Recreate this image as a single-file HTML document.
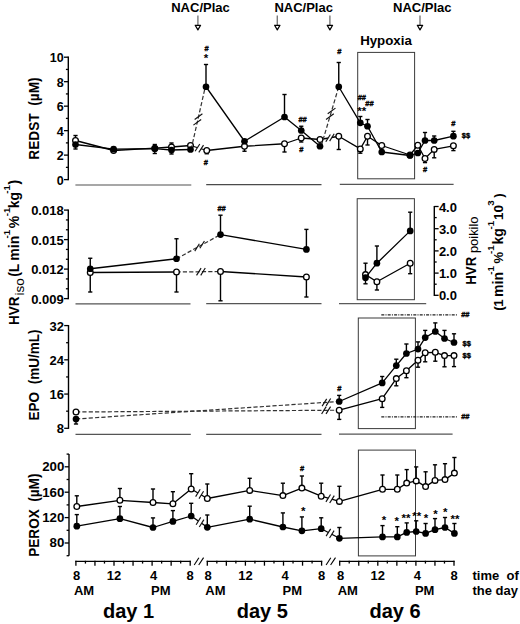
<!DOCTYPE html>
<html><head><meta charset="utf-8"><style>
html,body{margin:0;padding:0;background:#fff;}
svg{display:block;}
text{font-family:"Liberation Sans", sans-serif;fill:#000;}
</style></head><body>
<svg width="520" height="624" viewBox="0 0 520 624">
<rect width="520" height="624" fill="#fff"/>
<text x="200.50" y="12.30" font-size="13" text-anchor="middle" font-weight="bold">NAC/Plac</text>
<line x1="197.90" y1="15.60" x2="197.90" y2="25.20" stroke="#7a7a7a" stroke-width="1.4"/>
<path d="M195.20,25.3 L200.60,25.3 L197.90,29.9 Z" fill="#fff" stroke="#000" stroke-width="1.2" stroke-linejoin="round"/>
<text x="303.70" y="12.30" font-size="13" text-anchor="middle" font-weight="bold">NAC/Plac</text>
<line x1="277.30" y1="15.60" x2="277.30" y2="25.20" stroke="#7a7a7a" stroke-width="1.4"/>
<path d="M274.60,25.3 L280.00,25.3 L277.30,29.9 Z" fill="#fff" stroke="#000" stroke-width="1.2" stroke-linejoin="round"/>
<line x1="329.90" y1="15.60" x2="329.90" y2="25.20" stroke="#7a7a7a" stroke-width="1.4"/>
<path d="M327.20,25.3 L332.60,25.3 L329.90,29.9 Z" fill="#fff" stroke="#000" stroke-width="1.2" stroke-linejoin="round"/>
<text x="422.30" y="12.30" font-size="13" text-anchor="middle" font-weight="bold">NAC/Plac</text>
<line x1="420.00" y1="15.60" x2="420.00" y2="25.20" stroke="#7a7a7a" stroke-width="1.4"/>
<path d="M417.30,25.3 L422.70,25.3 L420.00,29.9 Z" fill="#fff" stroke="#000" stroke-width="1.2" stroke-linejoin="round"/>
<line x1="68.30" y1="56.60" x2="68.30" y2="180.20" stroke="#000" stroke-width="1.4"/>
<line x1="68.30" y1="57.20" x2="64.00" y2="57.20" stroke="#000" stroke-width="1.3"/>
<text x="63.70" y="62.17" font-size="12.5" text-anchor="end" font-weight="bold">10</text>
<line x1="68.30" y1="81.68" x2="64.00" y2="81.68" stroke="#000" stroke-width="1.3"/>
<text x="63.70" y="86.65" font-size="12.5" text-anchor="end" font-weight="bold">8</text>
<line x1="68.30" y1="106.16" x2="64.00" y2="106.16" stroke="#000" stroke-width="1.3"/>
<text x="63.70" y="111.13" font-size="12.5" text-anchor="end" font-weight="bold">6</text>
<line x1="68.30" y1="130.64" x2="64.00" y2="130.64" stroke="#000" stroke-width="1.3"/>
<text x="63.70" y="135.61" font-size="12.5" text-anchor="end" font-weight="bold">4</text>
<line x1="68.30" y1="155.12" x2="64.00" y2="155.12" stroke="#000" stroke-width="1.3"/>
<text x="63.70" y="160.09" font-size="12.5" text-anchor="end" font-weight="bold">2</text>
<line x1="68.30" y1="179.60" x2="64.00" y2="179.60" stroke="#000" stroke-width="1.3"/>
<text x="63.70" y="184.57" font-size="12.5" text-anchor="end" font-weight="bold">0</text>
<line x1="68.30" y1="69.44" x2="65.90" y2="69.44" stroke="#000" stroke-width="1.3"/>
<line x1="68.30" y1="93.92" x2="65.90" y2="93.92" stroke="#000" stroke-width="1.3"/>
<line x1="68.30" y1="118.40" x2="65.90" y2="118.40" stroke="#000" stroke-width="1.3"/>
<line x1="68.30" y1="142.88" x2="65.90" y2="142.88" stroke="#000" stroke-width="1.3"/>
<line x1="68.30" y1="167.36" x2="65.90" y2="167.36" stroke="#000" stroke-width="1.3"/>
<text transform="translate(38.75 118.55) rotate(-90)" x="0" y="0" font-size="14" text-anchor="middle" font-weight="bold" textLength="82.2" lengthAdjust="spacingAndGlyphs">REDST&#160;&#160;(µM)</text>
<line x1="68.30" y1="209.50" x2="68.30" y2="299.20" stroke="#000" stroke-width="1.4"/>
<line x1="68.30" y1="210.10" x2="64.00" y2="210.10" stroke="#000" stroke-width="1.3"/>
<text x="63.70" y="215.25" font-size="13" text-anchor="end" font-weight="bold">0.018</text>
<line x1="68.30" y1="239.60" x2="64.00" y2="239.60" stroke="#000" stroke-width="1.3"/>
<text x="63.70" y="244.75" font-size="13" text-anchor="end" font-weight="bold">0.015</text>
<line x1="68.30" y1="269.10" x2="64.00" y2="269.10" stroke="#000" stroke-width="1.3"/>
<text x="63.70" y="274.25" font-size="13" text-anchor="end" font-weight="bold">0.012</text>
<line x1="68.30" y1="298.60" x2="64.00" y2="298.60" stroke="#000" stroke-width="1.3"/>
<text x="63.70" y="303.75" font-size="13" text-anchor="end" font-weight="bold">0.009</text>
<line x1="68.30" y1="219.93" x2="65.90" y2="219.93" stroke="#000" stroke-width="1.3"/>
<line x1="68.30" y1="229.77" x2="65.90" y2="229.77" stroke="#000" stroke-width="1.3"/>
<line x1="68.30" y1="249.43" x2="65.90" y2="249.43" stroke="#000" stroke-width="1.3"/>
<line x1="68.30" y1="259.27" x2="65.90" y2="259.27" stroke="#000" stroke-width="1.3"/>
<line x1="68.30" y1="278.93" x2="65.90" y2="278.93" stroke="#000" stroke-width="1.3"/>
<line x1="68.30" y1="288.77" x2="65.90" y2="288.77" stroke="#000" stroke-width="1.3"/>
<line x1="434.30" y1="205.90" x2="434.30" y2="295.90" stroke="#000" stroke-width="1.4"/>
<line x1="434.30" y1="206.50" x2="438.60" y2="206.50" stroke="#000" stroke-width="1.3"/>
<text x="438.90" y="211.65" font-size="13" text-anchor="start" font-weight="bold">4.0</text>
<line x1="434.30" y1="228.70" x2="438.60" y2="228.70" stroke="#000" stroke-width="1.3"/>
<text x="438.90" y="233.85" font-size="13" text-anchor="start" font-weight="bold">3.0</text>
<line x1="434.30" y1="250.90" x2="438.60" y2="250.90" stroke="#000" stroke-width="1.3"/>
<text x="438.90" y="256.05" font-size="13" text-anchor="start" font-weight="bold">2.0</text>
<line x1="434.30" y1="273.10" x2="438.60" y2="273.10" stroke="#000" stroke-width="1.3"/>
<text x="438.90" y="278.25" font-size="13" text-anchor="start" font-weight="bold">1.0</text>
<line x1="434.30" y1="295.30" x2="438.60" y2="295.30" stroke="#000" stroke-width="1.3"/>
<text x="438.90" y="300.45" font-size="13" text-anchor="start" font-weight="bold">0.0</text>
<line x1="434.30" y1="217.60" x2="436.70" y2="217.60" stroke="#000" stroke-width="1.3"/>
<line x1="434.30" y1="239.80" x2="436.70" y2="239.80" stroke="#000" stroke-width="1.3"/>
<line x1="434.30" y1="262.00" x2="436.70" y2="262.00" stroke="#000" stroke-width="1.3"/>
<line x1="434.30" y1="284.20" x2="436.70" y2="284.20" stroke="#000" stroke-width="1.3"/>
<line x1="68.50" y1="324.98" x2="68.50" y2="428.90" stroke="#000" stroke-width="1.4"/>
<line x1="68.50" y1="325.58" x2="64.20" y2="325.58" stroke="#000" stroke-width="1.3"/>
<text x="63.90" y="330.73" font-size="13" text-anchor="end" font-weight="bold">32</text>
<line x1="68.50" y1="359.82" x2="64.20" y2="359.82" stroke="#000" stroke-width="1.3"/>
<text x="63.90" y="364.97" font-size="13" text-anchor="end" font-weight="bold">24</text>
<line x1="68.50" y1="394.06" x2="64.20" y2="394.06" stroke="#000" stroke-width="1.3"/>
<text x="63.90" y="399.21" font-size="13" text-anchor="end" font-weight="bold">16</text>
<line x1="68.50" y1="428.30" x2="64.20" y2="428.30" stroke="#000" stroke-width="1.3"/>
<text x="63.90" y="433.45" font-size="13" text-anchor="end" font-weight="bold">8</text>
<line x1="68.50" y1="342.70" x2="66.10" y2="342.70" stroke="#000" stroke-width="1.3"/>
<line x1="68.50" y1="376.94" x2="66.10" y2="376.94" stroke="#000" stroke-width="1.3"/>
<line x1="68.50" y1="411.18" x2="66.10" y2="411.18" stroke="#000" stroke-width="1.3"/>
<text transform="translate(39.20 374.95) rotate(-90)" x="0" y="0" font-size="14" text-anchor="middle" font-weight="bold" textLength="91.0" lengthAdjust="spacingAndGlyphs">EPO&#160;&#160;(mU/mL)</text>
<line x1="69.00" y1="454.10" x2="69.00" y2="555.70" stroke="#000" stroke-width="1.4"/>
<line x1="69.00" y1="466.80" x2="64.70" y2="466.80" stroke="#000" stroke-width="1.3"/>
<text x="64.40" y="471.16" font-size="13.3" text-anchor="end" font-weight="bold">200</text>
<line x1="69.00" y1="492.20" x2="64.70" y2="492.20" stroke="#000" stroke-width="1.3"/>
<text x="64.40" y="496.56" font-size="13.3" text-anchor="end" font-weight="bold">160</text>
<line x1="69.00" y1="517.60" x2="64.70" y2="517.60" stroke="#000" stroke-width="1.3"/>
<text x="64.40" y="521.96" font-size="13.3" text-anchor="end" font-weight="bold">120</text>
<line x1="69.00" y1="543.00" x2="64.70" y2="543.00" stroke="#000" stroke-width="1.3"/>
<text x="64.40" y="547.36" font-size="13.3" text-anchor="end" font-weight="bold">80</text>
<line x1="69.00" y1="454.10" x2="66.60" y2="454.10" stroke="#000" stroke-width="1.3"/>
<line x1="69.00" y1="479.50" x2="66.60" y2="479.50" stroke="#000" stroke-width="1.3"/>
<line x1="69.00" y1="504.90" x2="66.60" y2="504.90" stroke="#000" stroke-width="1.3"/>
<line x1="69.00" y1="530.30" x2="66.60" y2="530.30" stroke="#000" stroke-width="1.3"/>
<line x1="69.00" y1="555.70" x2="66.60" y2="555.70" stroke="#000" stroke-width="1.3"/>
<text transform="translate(38.80 515.15) rotate(-90)" x="0" y="0" font-size="14" text-anchor="middle" font-weight="bold" textLength="83.2" lengthAdjust="spacingAndGlyphs">PEROX&#160;&#160;(µM)</text>
<text transform="translate(19.20 310.85) rotate(-90)" x="0" y="0" font-size="14" text-anchor="middle" font-weight="bold" textLength="28.4" lengthAdjust="spacingAndGlyphs">HVR</text>
<text transform="translate(23.80 286.90) rotate(-90)" x="0" y="0" font-size="13.5" text-anchor="middle" font-weight="normal">iso</text>
<text transform="translate(19.20 274.50) rotate(-90)" x="0" y="0" font-size="14" text-anchor="middle" font-weight="bold">(</text>
<text transform="translate(19.20 267.95) rotate(-90)" x="0" y="0" font-size="14" text-anchor="middle" font-weight="bold">L</text>
<text transform="translate(19.20 248.20) rotate(-90)" x="0" y="0" font-size="14" text-anchor="middle" font-weight="bold">min</text>
<text transform="translate(10.00 234.05) rotate(-90)" x="0" y="0" font-size="9.8" text-anchor="middle" font-weight="bold">-1</text>
<text transform="translate(19.20 222.05) rotate(-90)" x="0" y="0" font-size="14" text-anchor="middle" font-weight="bold">%</text>
<text transform="translate(10.00 212.00) rotate(-90)" x="0" y="0" font-size="9.8" text-anchor="middle" font-weight="bold">-1</text>
<text transform="translate(19.20 200.00) rotate(-90)" x="0" y="0" font-size="14" text-anchor="middle" font-weight="bold">kg</text>
<text transform="translate(10.00 189.30) rotate(-90)" x="0" y="0" font-size="9.8" text-anchor="middle" font-weight="bold">-1</text>
<text transform="translate(19.20 182.10) rotate(-90)" x="0" y="0" font-size="14" text-anchor="middle" font-weight="bold">)</text>
<text transform="translate(476.20 270.75) rotate(-90)" x="0" y="0" font-size="14" text-anchor="middle" font-weight="bold" textLength="28.0" lengthAdjust="spacingAndGlyphs">HVR</text>
<text transform="translate(477.70 234.80) rotate(-90)" x="0" y="0" font-size="12" text-anchor="middle" font-weight="normal" textLength="36.6" lengthAdjust="spacingAndGlyphs">poikilo</text>
<text transform="translate(503.40 308.45) rotate(-90)" x="0" y="0" font-size="13.5" text-anchor="middle" font-weight="bold">(</text>
<text transform="translate(503.40 303.10) rotate(-90)" x="0" y="0" font-size="13.5" text-anchor="middle" font-weight="bold">1</text>
<text transform="translate(503.40 284.45) rotate(-90)" x="0" y="0" font-size="14" text-anchor="middle" font-weight="bold">min</text>
<text transform="translate(494.20 270.50) rotate(-90)" x="0" y="0" font-size="9.8" text-anchor="middle" font-weight="bold">-1</text>
<text transform="translate(503.40 257.80) rotate(-90)" x="0" y="0" font-size="13" text-anchor="middle" font-weight="bold">%</text>
<text transform="translate(494.20 249.55) rotate(-90)" x="0" y="0" font-size="9.8" text-anchor="middle" font-weight="bold">-1</text>
<text transform="translate(503.40 236.45) rotate(-90)" x="0" y="0" font-size="14" text-anchor="middle" font-weight="bold">kg</text>
<text transform="translate(494.20 225.25) rotate(-90)" x="0" y="0" font-size="9.8" text-anchor="middle" font-weight="bold">-1</text>
<text transform="translate(503.40 212.55) rotate(-90)" x="0" y="0" font-size="13.5" text-anchor="middle" font-weight="bold">10</text>
<text transform="translate(494.20 203.10) rotate(-90)" x="0" y="0" font-size="9.8" text-anchor="middle" font-weight="bold">3</text>
<text transform="translate(503.40 195.45) rotate(-90)" x="0" y="0" font-size="13.5" text-anchor="middle" font-weight="bold">)</text>
<line x1="75.40" y1="185.10" x2="191.30" y2="185.10" stroke="#8a8a8a" stroke-width="1.5"/>
<line x1="206.20" y1="184.50" x2="321.50" y2="184.50" stroke="#4a4a4a" stroke-width="1.25"/>
<line x1="339.80" y1="184.30" x2="453.60" y2="184.30" stroke="#555" stroke-width="1.3"/>
<line x1="75.50" y1="303.80" x2="190.50" y2="303.80" stroke="#555" stroke-width="1.3"/>
<line x1="206.20" y1="303.60" x2="321.50" y2="303.60" stroke="#555" stroke-width="1.3"/>
<line x1="339.00" y1="303.60" x2="426.20" y2="303.60" stroke="#5a5a5a" stroke-width="1.3"/>
<line x1="75.50" y1="434.30" x2="190.80" y2="434.30" stroke="#555" stroke-width="1.3"/>
<line x1="206.20" y1="434.30" x2="321.50" y2="434.30" stroke="#555" stroke-width="1.3"/>
<line x1="339.00" y1="434.20" x2="452.60" y2="434.20" stroke="#555" stroke-width="1.3"/>
<rect x="357.70" y="52.40" width="56.90" height="126.40" fill="none" stroke="#3a3a3a" stroke-width="1.0"/>
<rect x="357.20" y="198.70" width="57.20" height="101.00" fill="none" stroke="#3a3a3a" stroke-width="1.0"/>
<rect x="358.30" y="318.00" width="57.10" height="110.60" fill="none" stroke="#3a3a3a" stroke-width="1.0"/>
<rect x="358.40" y="450.10" width="57.10" height="105.80" fill="none" stroke="#3a3a3a" stroke-width="1.0"/>
<text x="386.00" y="44.70" font-size="13.3" text-anchor="middle" font-weight="bold">Hypoxia</text>
<line x1="75.30" y1="561.30" x2="190.80" y2="561.30" stroke="#000" stroke-width="1.15"/>
<line x1="75.90" y1="560.80" x2="75.90" y2="565.70" stroke="#000" stroke-width="1.3"/>
<line x1="85.43" y1="560.80" x2="85.43" y2="563.60" stroke="#000" stroke-width="1.3"/>
<line x1="94.95" y1="560.80" x2="94.95" y2="565.70" stroke="#000" stroke-width="1.3"/>
<line x1="104.48" y1="560.80" x2="104.48" y2="563.60" stroke="#000" stroke-width="1.3"/>
<line x1="114.00" y1="560.80" x2="114.00" y2="565.70" stroke="#000" stroke-width="1.3"/>
<line x1="123.53" y1="560.80" x2="123.53" y2="563.60" stroke="#000" stroke-width="1.3"/>
<line x1="133.05" y1="560.80" x2="133.05" y2="565.70" stroke="#000" stroke-width="1.3"/>
<line x1="142.57" y1="560.80" x2="142.57" y2="563.60" stroke="#000" stroke-width="1.3"/>
<line x1="152.10" y1="560.80" x2="152.10" y2="565.70" stroke="#000" stroke-width="1.3"/>
<line x1="161.62" y1="560.80" x2="161.62" y2="563.60" stroke="#000" stroke-width="1.3"/>
<line x1="171.15" y1="560.80" x2="171.15" y2="565.70" stroke="#000" stroke-width="1.3"/>
<line x1="180.68" y1="560.80" x2="180.68" y2="563.60" stroke="#000" stroke-width="1.3"/>
<line x1="190.20" y1="560.80" x2="190.20" y2="565.70" stroke="#000" stroke-width="1.3"/>
<line x1="206.70" y1="561.30" x2="322.20" y2="561.30" stroke="#000" stroke-width="1.15"/>
<line x1="207.30" y1="560.80" x2="207.30" y2="565.70" stroke="#000" stroke-width="1.3"/>
<line x1="216.83" y1="560.80" x2="216.83" y2="563.60" stroke="#000" stroke-width="1.3"/>
<line x1="226.35" y1="560.80" x2="226.35" y2="565.70" stroke="#000" stroke-width="1.3"/>
<line x1="235.88" y1="560.80" x2="235.88" y2="563.60" stroke="#000" stroke-width="1.3"/>
<line x1="245.40" y1="560.80" x2="245.40" y2="565.70" stroke="#000" stroke-width="1.3"/>
<line x1="254.93" y1="560.80" x2="254.93" y2="563.60" stroke="#000" stroke-width="1.3"/>
<line x1="264.45" y1="560.80" x2="264.45" y2="565.70" stroke="#000" stroke-width="1.3"/>
<line x1="273.98" y1="560.80" x2="273.98" y2="563.60" stroke="#000" stroke-width="1.3"/>
<line x1="283.50" y1="560.80" x2="283.50" y2="565.70" stroke="#000" stroke-width="1.3"/>
<line x1="293.03" y1="560.80" x2="293.03" y2="563.60" stroke="#000" stroke-width="1.3"/>
<line x1="302.55" y1="560.80" x2="302.55" y2="565.70" stroke="#000" stroke-width="1.3"/>
<line x1="312.08" y1="560.80" x2="312.08" y2="563.60" stroke="#000" stroke-width="1.3"/>
<line x1="321.60" y1="560.80" x2="321.60" y2="565.70" stroke="#000" stroke-width="1.3"/>
<line x1="339.10" y1="561.30" x2="454.60" y2="561.30" stroke="#000" stroke-width="1.15"/>
<line x1="339.70" y1="560.80" x2="339.70" y2="565.70" stroke="#000" stroke-width="1.3"/>
<line x1="349.22" y1="560.80" x2="349.22" y2="563.60" stroke="#000" stroke-width="1.3"/>
<line x1="358.75" y1="560.80" x2="358.75" y2="565.70" stroke="#000" stroke-width="1.3"/>
<line x1="368.27" y1="560.80" x2="368.27" y2="563.60" stroke="#000" stroke-width="1.3"/>
<line x1="377.80" y1="560.80" x2="377.80" y2="565.70" stroke="#000" stroke-width="1.3"/>
<line x1="387.32" y1="560.80" x2="387.32" y2="563.60" stroke="#000" stroke-width="1.3"/>
<line x1="396.85" y1="560.80" x2="396.85" y2="565.70" stroke="#000" stroke-width="1.3"/>
<line x1="406.38" y1="560.80" x2="406.38" y2="563.60" stroke="#000" stroke-width="1.3"/>
<line x1="415.90" y1="560.80" x2="415.90" y2="565.70" stroke="#000" stroke-width="1.3"/>
<line x1="425.43" y1="560.80" x2="425.43" y2="563.60" stroke="#000" stroke-width="1.3"/>
<line x1="434.95" y1="560.80" x2="434.95" y2="565.70" stroke="#000" stroke-width="1.3"/>
<line x1="444.48" y1="560.80" x2="444.48" y2="563.60" stroke="#000" stroke-width="1.3"/>
<line x1="454.00" y1="560.80" x2="454.00" y2="565.70" stroke="#000" stroke-width="1.3"/>
<line x1="194.20" y1="565.00" x2="198.90" y2="557.80" stroke="#000" stroke-width="1.1"/>
<line x1="198.70" y1="565.00" x2="203.60" y2="557.60" stroke="#000" stroke-width="1.1"/>
<line x1="326.10" y1="565.00" x2="330.80" y2="557.80" stroke="#000" stroke-width="1.1"/>
<line x1="330.60" y1="565.00" x2="335.50" y2="557.60" stroke="#000" stroke-width="1.1"/>
<text x="76.70" y="579.60" font-size="13" text-anchor="middle" font-weight="bold">8</text>
<text x="190.20" y="579.60" font-size="13" text-anchor="middle" font-weight="bold">8</text>
<text x="114.00" y="579.60" font-size="13" text-anchor="middle" font-weight="bold">12</text>
<text x="153.60" y="579.60" font-size="13" text-anchor="middle" font-weight="bold">4</text>
<text x="73.90" y="594.80" font-size="13" text-anchor="start" font-weight="bold">AM</text>
<text x="151.10" y="594.80" font-size="13" text-anchor="start" font-weight="bold">PM</text>
<text x="208.10" y="579.60" font-size="13" text-anchor="middle" font-weight="bold">8</text>
<text x="321.60" y="579.60" font-size="13" text-anchor="middle" font-weight="bold">8</text>
<text x="245.40" y="579.60" font-size="13" text-anchor="middle" font-weight="bold">12</text>
<text x="285.00" y="579.60" font-size="13" text-anchor="middle" font-weight="bold">4</text>
<text x="205.30" y="594.80" font-size="13" text-anchor="start" font-weight="bold">AM</text>
<text x="282.50" y="594.80" font-size="13" text-anchor="start" font-weight="bold">PM</text>
<text x="340.50" y="579.60" font-size="13" text-anchor="middle" font-weight="bold">8</text>
<text x="454.00" y="579.60" font-size="13" text-anchor="middle" font-weight="bold">8</text>
<text x="377.80" y="579.60" font-size="13" text-anchor="middle" font-weight="bold">12</text>
<text x="417.40" y="579.60" font-size="13" text-anchor="middle" font-weight="bold">4</text>
<text x="337.70" y="594.80" font-size="13" text-anchor="start" font-weight="bold">AM</text>
<text x="414.90" y="594.80" font-size="13" text-anchor="start" font-weight="bold">PM</text>
<text x="472.50" y="579.60" font-size="13" text-anchor="start" font-weight="bold">time&#160;&#160;of</text>
<text x="472.50" y="594.80" font-size="13" text-anchor="start" font-weight="bold">the day</text>
<text x="128.60" y="618.00" font-size="20" text-anchor="middle" font-weight="bold">day 1</text>
<text x="262.30" y="618.00" font-size="20" text-anchor="middle" font-weight="bold">day 5</text>
<text x="395.00" y="618.00" font-size="20" text-anchor="middle" font-weight="bold">day 6</text>
<polyline points="75.50,140.50 113.60,150.50 154.80,148.20 171.50,147.00 190.50,145.50" fill="none" stroke="#000" stroke-width="1.3" stroke-linejoin="round"/>
<polyline points="206.75,150.50 244.50,146.25 284.50,143.75 301.25,138.00 320.00,139.50" fill="none" stroke="#000" stroke-width="1.3" stroke-linejoin="round"/>
<polyline points="338.75,136.25 360.30,148.90 367.50,136.25 381.75,145.50 410.00,155.00 417.80,145.30 425.00,158.50 434.20,149.40 453.40,145.80" fill="none" stroke="#000" stroke-width="1.3" stroke-linejoin="round"/>
<polyline points="190.50,145.50 206.75,150.50" fill="none" stroke="#000" stroke-width="1.3" stroke-linejoin="round"/>
<polyline points="320.00,139.50 338.75,136.25" fill="none" stroke="#000" stroke-width="1.3" stroke-linejoin="round"/>
<line x1="75.50" y1="140.50" x2="75.50" y2="135.50" stroke="#000" stroke-width="1.4"/>
<line x1="73.40" y1="135.50" x2="77.60" y2="135.50" stroke="#000" stroke-width="1.4"/>
<line x1="154.80" y1="148.20" x2="154.80" y2="144.50" stroke="#000" stroke-width="1.4"/>
<line x1="152.70" y1="144.50" x2="156.90" y2="144.50" stroke="#000" stroke-width="1.4"/>
<line x1="171.50" y1="147.00" x2="171.50" y2="143.00" stroke="#000" stroke-width="1.4"/>
<line x1="169.40" y1="143.00" x2="173.60" y2="143.00" stroke="#000" stroke-width="1.4"/>
<line x1="206.75" y1="150.50" x2="206.75" y2="153.75" stroke="#000" stroke-width="1.4"/>
<line x1="204.65" y1="153.75" x2="208.85" y2="153.75" stroke="#000" stroke-width="1.4"/>
<line x1="244.50" y1="146.25" x2="244.50" y2="151.25" stroke="#000" stroke-width="1.4"/>
<line x1="242.40" y1="151.25" x2="246.60" y2="151.25" stroke="#000" stroke-width="1.4"/>
<line x1="284.50" y1="143.75" x2="284.50" y2="152.00" stroke="#000" stroke-width="1.4"/>
<line x1="282.40" y1="152.00" x2="286.60" y2="152.00" stroke="#000" stroke-width="1.4"/>
<line x1="301.25" y1="138.00" x2="301.25" y2="142.00" stroke="#000" stroke-width="1.4"/>
<line x1="299.15" y1="142.00" x2="303.35" y2="142.00" stroke="#000" stroke-width="1.4"/>
<line x1="338.75" y1="136.25" x2="338.75" y2="149.50" stroke="#000" stroke-width="1.4"/>
<line x1="336.65" y1="149.50" x2="340.85" y2="149.50" stroke="#000" stroke-width="1.4"/>
<line x1="360.30" y1="148.90" x2="360.30" y2="153.20" stroke="#000" stroke-width="1.4"/>
<line x1="358.20" y1="153.20" x2="362.40" y2="153.20" stroke="#000" stroke-width="1.4"/>
<line x1="367.50" y1="136.25" x2="367.50" y2="145.00" stroke="#000" stroke-width="1.4"/>
<line x1="365.40" y1="145.00" x2="369.60" y2="145.00" stroke="#000" stroke-width="1.4"/>
<line x1="425.00" y1="158.50" x2="425.00" y2="162.60" stroke="#000" stroke-width="1.4"/>
<line x1="422.90" y1="162.60" x2="427.10" y2="162.60" stroke="#000" stroke-width="1.4"/>
<line x1="434.20" y1="149.40" x2="434.20" y2="157.80" stroke="#000" stroke-width="1.4"/>
<line x1="432.10" y1="157.80" x2="436.30" y2="157.80" stroke="#000" stroke-width="1.4"/>
<line x1="453.40" y1="145.80" x2="453.40" y2="150.60" stroke="#000" stroke-width="1.4"/>
<line x1="451.30" y1="150.60" x2="455.50" y2="150.60" stroke="#000" stroke-width="1.4"/>
<circle cx="75.50" cy="140.50" r="2.85" fill="#fff" stroke="#000" stroke-width="1.3"/>
<circle cx="113.60" cy="150.50" r="2.85" fill="#fff" stroke="#000" stroke-width="1.3"/>
<circle cx="154.80" cy="148.20" r="2.85" fill="#fff" stroke="#000" stroke-width="1.3"/>
<circle cx="171.50" cy="147.00" r="2.85" fill="#fff" stroke="#000" stroke-width="1.3"/>
<circle cx="190.50" cy="145.50" r="2.85" fill="#fff" stroke="#000" stroke-width="1.3"/>
<circle cx="206.75" cy="150.50" r="2.85" fill="#fff" stroke="#000" stroke-width="1.3"/>
<circle cx="244.50" cy="146.25" r="2.85" fill="#fff" stroke="#000" stroke-width="1.3"/>
<circle cx="284.50" cy="143.75" r="2.85" fill="#fff" stroke="#000" stroke-width="1.3"/>
<circle cx="301.25" cy="138.00" r="2.85" fill="#fff" stroke="#000" stroke-width="1.3"/>
<circle cx="320.00" cy="139.50" r="2.85" fill="#fff" stroke="#000" stroke-width="1.3"/>
<circle cx="338.75" cy="136.25" r="2.85" fill="#fff" stroke="#000" stroke-width="1.3"/>
<circle cx="360.30" cy="148.90" r="2.85" fill="#fff" stroke="#000" stroke-width="1.3"/>
<circle cx="367.50" cy="136.25" r="2.85" fill="#fff" stroke="#000" stroke-width="1.3"/>
<circle cx="381.75" cy="145.50" r="2.85" fill="#fff" stroke="#000" stroke-width="1.3"/>
<circle cx="410.00" cy="155.00" r="2.85" fill="#fff" stroke="#000" stroke-width="1.3"/>
<circle cx="417.80" cy="145.30" r="2.85" fill="#fff" stroke="#000" stroke-width="1.3"/>
<circle cx="425.00" cy="158.50" r="2.85" fill="#fff" stroke="#000" stroke-width="1.3"/>
<circle cx="434.20" cy="149.40" r="2.85" fill="#fff" stroke="#000" stroke-width="1.3"/>
<circle cx="453.40" cy="145.80" r="2.85" fill="#fff" stroke="#000" stroke-width="1.3"/>
<polyline points="75.50,144.50 113.60,149.20 154.80,148.70 171.50,150.00 190.50,149.50" fill="none" stroke="#000" stroke-width="1.3" stroke-linejoin="round"/>
<polyline points="206.00,86.75 244.50,141.25 284.50,117.00 301.25,130.50 320.00,146.25" fill="none" stroke="#000" stroke-width="1.3" stroke-linejoin="round"/>
<polyline points="338.75,86.75 360.30,122.80 367.50,126.25 381.75,152.00 410.00,155.50 417.80,153.00 425.00,140.50 434.20,140.50 453.40,136.20" fill="none" stroke="#000" stroke-width="1.3" stroke-linejoin="round"/>
<polyline points="191.10,149.50 205.30,86.75" fill="none" stroke="#333" stroke-width="1.2" stroke-dasharray="4.2,2.15" stroke-linejoin="round"/>
<polyline points="321.20,146.00 338.75,86.75" fill="none" stroke="#333" stroke-width="1.2" stroke-dasharray="4.2,2.15" stroke-linejoin="round"/>
<line x1="75.50" y1="144.50" x2="75.50" y2="149.00" stroke="#000" stroke-width="1.4"/>
<line x1="73.40" y1="149.00" x2="77.60" y2="149.00" stroke="#000" stroke-width="1.4"/>
<line x1="154.80" y1="148.70" x2="154.80" y2="153.50" stroke="#000" stroke-width="1.4"/>
<line x1="152.70" y1="153.50" x2="156.90" y2="153.50" stroke="#000" stroke-width="1.4"/>
<line x1="171.50" y1="150.00" x2="171.50" y2="154.00" stroke="#000" stroke-width="1.4"/>
<line x1="169.40" y1="154.00" x2="173.60" y2="154.00" stroke="#000" stroke-width="1.4"/>
<line x1="206.00" y1="86.75" x2="206.00" y2="64.50" stroke="#000" stroke-width="1.4"/>
<line x1="203.90" y1="64.50" x2="208.10" y2="64.50" stroke="#000" stroke-width="1.4"/>
<line x1="284.50" y1="117.00" x2="284.50" y2="94.50" stroke="#000" stroke-width="1.4"/>
<line x1="282.40" y1="94.50" x2="286.60" y2="94.50" stroke="#000" stroke-width="1.4"/>
<line x1="301.25" y1="130.50" x2="301.25" y2="126.25" stroke="#000" stroke-width="1.4"/>
<line x1="299.15" y1="126.25" x2="303.35" y2="126.25" stroke="#000" stroke-width="1.4"/>
<line x1="338.75" y1="86.75" x2="338.75" y2="62.50" stroke="#000" stroke-width="1.4"/>
<line x1="336.65" y1="62.50" x2="340.85" y2="62.50" stroke="#000" stroke-width="1.4"/>
<line x1="360.30" y1="122.80" x2="360.30" y2="116.50" stroke="#000" stroke-width="1.4"/>
<line x1="358.20" y1="116.50" x2="362.40" y2="116.50" stroke="#000" stroke-width="1.4"/>
<line x1="367.50" y1="126.25" x2="367.50" y2="119.50" stroke="#000" stroke-width="1.4"/>
<line x1="365.40" y1="119.50" x2="369.60" y2="119.50" stroke="#000" stroke-width="1.4"/>
<line x1="425.00" y1="140.50" x2="425.00" y2="132.50" stroke="#000" stroke-width="1.4"/>
<line x1="422.90" y1="132.50" x2="427.10" y2="132.50" stroke="#000" stroke-width="1.4"/>
<line x1="434.20" y1="140.50" x2="434.20" y2="136.00" stroke="#000" stroke-width="1.4"/>
<line x1="432.10" y1="136.00" x2="436.30" y2="136.00" stroke="#000" stroke-width="1.4"/>
<line x1="453.40" y1="136.20" x2="453.40" y2="131.30" stroke="#000" stroke-width="1.4"/>
<line x1="451.30" y1="131.30" x2="455.50" y2="131.30" stroke="#000" stroke-width="1.4"/>
<circle cx="75.50" cy="144.50" r="3.35" fill="#000"/>
<circle cx="113.60" cy="149.20" r="3.35" fill="#000"/>
<circle cx="154.80" cy="148.70" r="3.35" fill="#000"/>
<circle cx="171.50" cy="150.00" r="3.35" fill="#000"/>
<circle cx="190.50" cy="149.50" r="3.35" fill="#000"/>
<circle cx="206.00" cy="86.75" r="3.35" fill="#000"/>
<circle cx="244.50" cy="141.25" r="3.35" fill="#000"/>
<circle cx="284.50" cy="117.00" r="3.35" fill="#000"/>
<circle cx="301.25" cy="130.50" r="3.35" fill="#000"/>
<circle cx="320.00" cy="146.25" r="3.35" fill="#000"/>
<circle cx="338.75" cy="86.75" r="3.35" fill="#000"/>
<circle cx="360.30" cy="122.80" r="3.35" fill="#000"/>
<circle cx="367.50" cy="126.25" r="3.35" fill="#000"/>
<circle cx="381.75" cy="152.00" r="3.35" fill="#000"/>
<circle cx="410.00" cy="155.50" r="3.35" fill="#000"/>
<circle cx="417.80" cy="153.00" r="3.35" fill="#000"/>
<circle cx="425.00" cy="140.50" r="3.35" fill="#000"/>
<circle cx="434.20" cy="140.50" r="3.35" fill="#000"/>
<circle cx="453.40" cy="136.20" r="3.35" fill="#000"/>
<line x1="197.44" y1="147.63" x2="201.16" y2="148.78" stroke="#fff" stroke-width="3"/>
<line x1="195.09" y1="151.24" x2="199.78" y2="144.03" stroke="#111" stroke-width="1.15"/>
<line x1="198.82" y1="152.39" x2="203.51" y2="145.17" stroke="#111" stroke-width="1.15"/>
<line x1="328.08" y1="138.10" x2="331.92" y2="137.43" stroke="#fff" stroke-width="3"/>
<line x1="325.80" y1="141.75" x2="330.36" y2="134.45" stroke="#111" stroke-width="1.15"/>
<line x1="329.64" y1="141.08" x2="334.20" y2="133.79" stroke="#111" stroke-width="1.15"/>
<line x1="193.38" y1="125.10" x2="201.14" y2="119.46" stroke="#111" stroke-width="1.15"/>
<line x1="194.66" y1="119.44" x2="202.42" y2="113.80" stroke="#111" stroke-width="1.15"/>
<line x1="326.03" y1="119.41" x2="333.80" y2="113.77" stroke="#111" stroke-width="1.15"/>
<line x1="327.70" y1="113.75" x2="335.47" y2="108.11" stroke="#111" stroke-width="1.15"/>
<text x="206.60" y="51.09" font-size="7.5" text-anchor="middle" font-weight="bold" stroke="#000" stroke-width="0.35">#</text>
<text x="206.00" y="62.11" font-size="11.5" text-anchor="middle" font-weight="bold">*</text>
<text x="205.90" y="164.59" font-size="7.5" text-anchor="middle" font-weight="bold" stroke="#000" stroke-width="0.35">#</text>
<text x="302.60" y="122.39" font-size="7.5" text-anchor="middle" font-weight="bold" stroke="#000" stroke-width="0.35">##</text>
<text x="301.40" y="152.09" font-size="7.5" text-anchor="middle" font-weight="bold" stroke="#000" stroke-width="0.35">#</text>
<text x="339.40" y="53.89" font-size="7.5" text-anchor="middle" font-weight="bold" stroke="#000" stroke-width="0.35">#</text>
<text x="361.80" y="99.59" font-size="7.5" text-anchor="middle" font-weight="bold" stroke="#000" stroke-width="0.35">##</text>
<text x="369.50" y="106.19" font-size="7.5" text-anchor="middle" font-weight="bold" stroke="#000" stroke-width="0.35">##</text>
<text x="361.80" y="114.61" font-size="11.5" text-anchor="middle" font-weight="bold">**</text>
<text x="425.00" y="172.39" font-size="7.5" text-anchor="middle" font-weight="bold" stroke="#000" stroke-width="0.35">#</text>
<text x="453.40" y="125.59" font-size="7.5" text-anchor="middle" font-weight="bold" stroke="#000" stroke-width="0.35">#</text>
<text x="466.00" y="137.65" font-size="7.5" text-anchor="middle" font-weight="bold" stroke="#000" stroke-width="0.35">$$</text>
<polyline points="90.25,272.50 176.50,272.00" fill="none" stroke="#000" stroke-width="1.3" stroke-linejoin="round"/>
<polyline points="220.50,271.50 306.40,277.00" fill="none" stroke="#000" stroke-width="1.3" stroke-linejoin="round"/>
<polyline points="365.50,274.60 376.90,281.70 410.20,263.20" fill="none" stroke="#000" stroke-width="1.3" stroke-linejoin="round"/>
<polyline points="176.50,272.00 220.50,271.50" fill="none" stroke="#333" stroke-width="1.2" stroke-dasharray="4.2,2.15" stroke-linejoin="round"/>
<line x1="90.25" y1="272.50" x2="90.25" y2="292.00" stroke="#000" stroke-width="1.4"/>
<line x1="88.15" y1="292.00" x2="92.35" y2="292.00" stroke="#000" stroke-width="1.4"/>
<line x1="176.50" y1="272.00" x2="176.50" y2="292.00" stroke="#000" stroke-width="1.4"/>
<line x1="174.40" y1="292.00" x2="178.60" y2="292.00" stroke="#000" stroke-width="1.4"/>
<line x1="220.50" y1="271.50" x2="220.50" y2="300.80" stroke="#000" stroke-width="1.4"/>
<line x1="218.40" y1="300.80" x2="222.60" y2="300.80" stroke="#000" stroke-width="1.4"/>
<line x1="306.40" y1="277.00" x2="306.40" y2="297.00" stroke="#000" stroke-width="1.4"/>
<line x1="304.30" y1="297.00" x2="308.50" y2="297.00" stroke="#000" stroke-width="1.4"/>
<line x1="365.50" y1="274.60" x2="365.50" y2="263.20" stroke="#000" stroke-width="1.4"/>
<line x1="363.40" y1="263.20" x2="367.60" y2="263.20" stroke="#000" stroke-width="1.4"/>
<line x1="376.90" y1="281.70" x2="376.90" y2="290.00" stroke="#000" stroke-width="1.4"/>
<line x1="374.80" y1="290.00" x2="379.00" y2="290.00" stroke="#000" stroke-width="1.4"/>
<line x1="410.20" y1="263.20" x2="410.20" y2="273.70" stroke="#000" stroke-width="1.4"/>
<line x1="408.10" y1="273.70" x2="412.30" y2="273.70" stroke="#000" stroke-width="1.4"/>
<circle cx="90.25" cy="272.50" r="2.85" fill="#fff" stroke="#000" stroke-width="1.3"/>
<circle cx="176.50" cy="272.00" r="2.85" fill="#fff" stroke="#000" stroke-width="1.3"/>
<circle cx="220.50" cy="271.50" r="2.85" fill="#fff" stroke="#000" stroke-width="1.3"/>
<circle cx="306.40" cy="277.00" r="2.85" fill="#fff" stroke="#000" stroke-width="1.3"/>
<circle cx="365.50" cy="274.60" r="2.85" fill="#fff" stroke="#000" stroke-width="1.3"/>
<circle cx="376.90" cy="281.70" r="2.85" fill="#fff" stroke="#000" stroke-width="1.3"/>
<circle cx="410.20" cy="263.20" r="2.85" fill="#fff" stroke="#000" stroke-width="1.3"/>
<polyline points="90.25,268.75 176.50,258.75" fill="none" stroke="#000" stroke-width="1.3" stroke-linejoin="round"/>
<polyline points="220.50,234.60 306.40,249.40" fill="none" stroke="#000" stroke-width="1.3" stroke-linejoin="round"/>
<polyline points="365.50,277.70 376.90,263.20 410.20,230.90" fill="none" stroke="#000" stroke-width="1.3" stroke-linejoin="round"/>
<polyline points="176.50,258.75 220.50,234.60" fill="none" stroke="#333" stroke-width="1.2" stroke-dasharray="4.2,2.15" stroke-linejoin="round"/>
<line x1="90.25" y1="268.75" x2="90.25" y2="258.25" stroke="#000" stroke-width="1.4"/>
<line x1="88.15" y1="258.25" x2="92.35" y2="258.25" stroke="#000" stroke-width="1.4"/>
<line x1="176.50" y1="258.75" x2="176.50" y2="238.75" stroke="#000" stroke-width="1.4"/>
<line x1="174.40" y1="238.75" x2="178.60" y2="238.75" stroke="#000" stroke-width="1.4"/>
<line x1="220.50" y1="234.60" x2="220.50" y2="215.20" stroke="#000" stroke-width="1.4"/>
<line x1="218.40" y1="215.20" x2="222.60" y2="215.20" stroke="#000" stroke-width="1.4"/>
<line x1="306.40" y1="249.40" x2="306.40" y2="229.40" stroke="#000" stroke-width="1.4"/>
<line x1="304.30" y1="229.40" x2="308.50" y2="229.40" stroke="#000" stroke-width="1.4"/>
<line x1="365.50" y1="277.70" x2="365.50" y2="283.80" stroke="#000" stroke-width="1.4"/>
<line x1="363.40" y1="283.80" x2="367.60" y2="283.80" stroke="#000" stroke-width="1.4"/>
<line x1="376.90" y1="263.20" x2="376.90" y2="246.00" stroke="#000" stroke-width="1.4"/>
<line x1="374.80" y1="246.00" x2="379.00" y2="246.00" stroke="#000" stroke-width="1.4"/>
<line x1="410.20" y1="230.90" x2="410.20" y2="212.20" stroke="#000" stroke-width="1.4"/>
<line x1="408.10" y1="212.20" x2="412.30" y2="212.20" stroke="#000" stroke-width="1.4"/>
<circle cx="90.25" cy="268.75" r="3.35" fill="#000"/>
<circle cx="176.50" cy="258.75" r="3.35" fill="#000"/>
<circle cx="220.50" cy="234.60" r="3.35" fill="#000"/>
<circle cx="306.40" cy="249.40" r="3.35" fill="#000"/>
<circle cx="365.50" cy="277.70" r="3.35" fill="#000"/>
<circle cx="376.90" cy="263.20" r="3.35" fill="#000"/>
<circle cx="410.20" cy="230.90" r="3.35" fill="#000"/>
<line x1="196.52" y1="275.39" x2="201.08" y2="268.10" stroke="#111" stroke-width="1.15"/>
<line x1="200.72" y1="275.35" x2="205.28" y2="268.05" stroke="#111" stroke-width="1.15"/>
<line x1="194.78" y1="251.11" x2="199.34" y2="243.82" stroke="#111" stroke-width="1.15"/>
<line x1="199.86" y1="248.32" x2="204.42" y2="241.03" stroke="#111" stroke-width="1.15"/>
<text x="221.60" y="210.89" font-size="7.5" text-anchor="middle" font-weight="bold" stroke="#000" stroke-width="0.35">##</text>
<polyline points="76.00,412.00" fill="none" stroke="#000" stroke-width="1.3" stroke-linejoin="round"/>
<polyline points="339.20,410.20 382.20,398.70 396.30,378.60 406.40,370.80 418.00,360.20 425.20,352.70 435.30,352.30 444.50,355.60 454.00,355.60" fill="none" stroke="#000" stroke-width="1.3" stroke-linejoin="round"/>
<polyline points="76.00,412.00 339.20,410.20" fill="none" stroke="#333" stroke-width="1.2" stroke-dasharray="4.2,2.15" stroke-linejoin="round"/>
<line x1="339.20" y1="410.20" x2="339.20" y2="419.40" stroke="#000" stroke-width="1.4"/>
<line x1="337.10" y1="419.40" x2="341.30" y2="419.40" stroke="#000" stroke-width="1.4"/>
<line x1="382.20" y1="398.70" x2="382.20" y2="407.40" stroke="#000" stroke-width="1.4"/>
<line x1="380.10" y1="407.40" x2="384.30" y2="407.40" stroke="#000" stroke-width="1.4"/>
<line x1="396.30" y1="378.60" x2="396.30" y2="385.80" stroke="#000" stroke-width="1.4"/>
<line x1="394.20" y1="385.80" x2="398.40" y2="385.80" stroke="#000" stroke-width="1.4"/>
<line x1="406.40" y1="370.80" x2="406.40" y2="377.70" stroke="#000" stroke-width="1.4"/>
<line x1="404.30" y1="377.70" x2="408.50" y2="377.70" stroke="#000" stroke-width="1.4"/>
<line x1="418.00" y1="360.20" x2="418.00" y2="367.20" stroke="#000" stroke-width="1.4"/>
<line x1="415.90" y1="367.20" x2="420.10" y2="367.20" stroke="#000" stroke-width="1.4"/>
<line x1="425.20" y1="352.70" x2="425.20" y2="361.80" stroke="#000" stroke-width="1.4"/>
<line x1="423.10" y1="361.80" x2="427.30" y2="361.80" stroke="#000" stroke-width="1.4"/>
<line x1="435.30" y1="352.30" x2="435.30" y2="361.20" stroke="#000" stroke-width="1.4"/>
<line x1="433.20" y1="361.20" x2="437.40" y2="361.20" stroke="#000" stroke-width="1.4"/>
<line x1="444.50" y1="355.60" x2="444.50" y2="366.80" stroke="#000" stroke-width="1.4"/>
<line x1="442.40" y1="366.80" x2="446.60" y2="366.80" stroke="#000" stroke-width="1.4"/>
<line x1="454.00" y1="355.60" x2="454.00" y2="366.60" stroke="#000" stroke-width="1.4"/>
<line x1="451.90" y1="366.60" x2="456.10" y2="366.60" stroke="#000" stroke-width="1.4"/>
<circle cx="76.00" cy="412.00" r="2.85" fill="#fff" stroke="#000" stroke-width="1.3"/>
<circle cx="339.20" cy="410.20" r="2.85" fill="#fff" stroke="#000" stroke-width="1.3"/>
<circle cx="382.20" cy="398.70" r="2.85" fill="#fff" stroke="#000" stroke-width="1.3"/>
<circle cx="396.30" cy="378.60" r="2.85" fill="#fff" stroke="#000" stroke-width="1.3"/>
<circle cx="406.40" cy="370.80" r="2.85" fill="#fff" stroke="#000" stroke-width="1.3"/>
<circle cx="418.00" cy="360.20" r="2.85" fill="#fff" stroke="#000" stroke-width="1.3"/>
<circle cx="425.20" cy="352.70" r="2.85" fill="#fff" stroke="#000" stroke-width="1.3"/>
<circle cx="435.30" cy="352.30" r="2.85" fill="#fff" stroke="#000" stroke-width="1.3"/>
<circle cx="444.50" cy="355.60" r="2.85" fill="#fff" stroke="#000" stroke-width="1.3"/>
<circle cx="454.00" cy="355.60" r="2.85" fill="#fff" stroke="#000" stroke-width="1.3"/>
<polyline points="76.00,419.00" fill="none" stroke="#000" stroke-width="1.3" stroke-linejoin="round"/>
<polyline points="339.20,401.50 382.20,382.90 396.30,365.60 406.40,353.50 418.00,349.10 425.20,337.60 435.30,331.50 444.50,338.50 454.00,342.50" fill="none" stroke="#000" stroke-width="1.3" stroke-linejoin="round"/>
<polyline points="76.00,419.00 339.20,401.50" fill="none" stroke="#333" stroke-width="1.2" stroke-dasharray="4.2,2.15" stroke-linejoin="round"/>
<line x1="76.00" y1="419.00" x2="76.00" y2="424.00" stroke="#000" stroke-width="1.4"/>
<line x1="73.90" y1="424.00" x2="78.10" y2="424.00" stroke="#000" stroke-width="1.4"/>
<line x1="339.20" y1="401.50" x2="339.20" y2="395.40" stroke="#000" stroke-width="1.4"/>
<line x1="337.10" y1="395.40" x2="341.30" y2="395.40" stroke="#000" stroke-width="1.4"/>
<line x1="382.20" y1="382.90" x2="382.20" y2="376.50" stroke="#000" stroke-width="1.4"/>
<line x1="380.10" y1="376.50" x2="384.30" y2="376.50" stroke="#000" stroke-width="1.4"/>
<line x1="396.30" y1="365.60" x2="396.30" y2="359.20" stroke="#000" stroke-width="1.4"/>
<line x1="394.20" y1="359.20" x2="398.40" y2="359.20" stroke="#000" stroke-width="1.4"/>
<line x1="406.40" y1="353.50" x2="406.40" y2="344.00" stroke="#000" stroke-width="1.4"/>
<line x1="404.30" y1="344.00" x2="408.50" y2="344.00" stroke="#000" stroke-width="1.4"/>
<line x1="418.00" y1="349.10" x2="418.00" y2="341.90" stroke="#000" stroke-width="1.4"/>
<line x1="415.90" y1="341.90" x2="420.10" y2="341.90" stroke="#000" stroke-width="1.4"/>
<line x1="425.20" y1="337.60" x2="425.20" y2="330.40" stroke="#000" stroke-width="1.4"/>
<line x1="423.10" y1="330.40" x2="427.30" y2="330.40" stroke="#000" stroke-width="1.4"/>
<line x1="435.30" y1="331.50" x2="435.30" y2="322.90" stroke="#000" stroke-width="1.4"/>
<line x1="433.20" y1="322.90" x2="437.40" y2="322.90" stroke="#000" stroke-width="1.4"/>
<line x1="444.50" y1="338.50" x2="444.50" y2="330.40" stroke="#000" stroke-width="1.4"/>
<line x1="442.40" y1="330.40" x2="446.60" y2="330.40" stroke="#000" stroke-width="1.4"/>
<line x1="454.00" y1="342.50" x2="454.00" y2="333.80" stroke="#000" stroke-width="1.4"/>
<line x1="451.90" y1="333.80" x2="456.10" y2="333.80" stroke="#000" stroke-width="1.4"/>
<circle cx="76.00" cy="419.00" r="3.35" fill="#000"/>
<circle cx="339.20" cy="401.50" r="3.35" fill="#000"/>
<circle cx="382.20" cy="382.90" r="3.35" fill="#000"/>
<circle cx="396.30" cy="365.60" r="3.35" fill="#000"/>
<circle cx="406.40" cy="353.50" r="3.35" fill="#000"/>
<circle cx="418.00" cy="349.10" r="3.35" fill="#000"/>
<circle cx="425.20" cy="337.60" r="3.35" fill="#000"/>
<circle cx="435.30" cy="331.50" r="3.35" fill="#000"/>
<circle cx="444.50" cy="338.50" r="3.35" fill="#000"/>
<circle cx="454.00" cy="342.50" r="3.35" fill="#000"/>
<line x1="321.62" y1="413.95" x2="326.18" y2="406.66" stroke="#111" stroke-width="1.15"/>
<line x1="326.02" y1="413.92" x2="330.58" y2="406.63" stroke="#111" stroke-width="1.15"/>
<line x1="322.13" y1="406.13" x2="326.68" y2="398.84" stroke="#111" stroke-width="1.15"/>
<line x1="326.12" y1="405.86" x2="330.67" y2="398.57" stroke="#111" stroke-width="1.15"/>
<text x="339.30" y="390.89" font-size="7.5" text-anchor="middle" font-weight="bold" stroke="#000" stroke-width="0.35">#</text>
<line x1="381.30" y1="314.90" x2="457.80" y2="314.90" stroke="#222" stroke-width="1.15" stroke-dasharray="3,1.2,1,1.2"/>
<text x="465.30" y="317.49" font-size="7.5" text-anchor="middle" font-weight="bold" stroke="#000" stroke-width="0.35">##</text>
<line x1="381.30" y1="416.90" x2="457.80" y2="416.90" stroke="#222" stroke-width="1.15" stroke-dasharray="3,1.2,1,1.2"/>
<text x="465.30" y="419.49" font-size="7.5" text-anchor="middle" font-weight="bold" stroke="#000" stroke-width="0.35">##</text>
<text x="466.70" y="346.15" font-size="7.5" text-anchor="middle" font-weight="bold" stroke="#000" stroke-width="0.35">$$</text>
<text x="466.70" y="358.35" font-size="7.5" text-anchor="middle" font-weight="bold" stroke="#000" stroke-width="0.35">$$</text>
<polyline points="76.80,506.50 119.90,500.30 153.00,502.50 172.90,503.80 191.20,489.00" fill="none" stroke="#000" stroke-width="1.3" stroke-linejoin="round"/>
<polyline points="207.30,498.50 249.70,490.40 282.90,495.60 301.90,488.10 321.20,496.20" fill="none" stroke="#000" stroke-width="1.3" stroke-linejoin="round"/>
<polyline points="339.40,501.40 382.50,489.30 397.30,489.30 406.70,483.10 416.20,480.90 425.60,486.60 435.00,480.40 445.00,479.60 454.40,473.10" fill="none" stroke="#000" stroke-width="1.3" stroke-linejoin="round"/>
<polyline points="191.20,489.00 207.30,498.50" fill="none" stroke="#000" stroke-width="1.3" stroke-linejoin="round"/>
<polyline points="321.20,496.20 339.40,501.40" fill="none" stroke="#000" stroke-width="1.3" stroke-linejoin="round"/>
<line x1="76.80" y1="506.50" x2="76.80" y2="495.80" stroke="#000" stroke-width="1.4"/>
<line x1="74.70" y1="495.80" x2="78.90" y2="495.80" stroke="#000" stroke-width="1.4"/>
<line x1="119.90" y1="500.30" x2="119.90" y2="488.50" stroke="#000" stroke-width="1.4"/>
<line x1="117.80" y1="488.50" x2="122.00" y2="488.50" stroke="#000" stroke-width="1.4"/>
<line x1="153.00" y1="502.50" x2="153.00" y2="489.00" stroke="#000" stroke-width="1.4"/>
<line x1="150.90" y1="489.00" x2="155.10" y2="489.00" stroke="#000" stroke-width="1.4"/>
<line x1="172.90" y1="503.80" x2="172.90" y2="491.70" stroke="#000" stroke-width="1.4"/>
<line x1="170.80" y1="491.70" x2="175.00" y2="491.70" stroke="#000" stroke-width="1.4"/>
<line x1="191.20" y1="489.00" x2="191.20" y2="473.70" stroke="#000" stroke-width="1.4"/>
<line x1="189.10" y1="473.70" x2="193.30" y2="473.70" stroke="#000" stroke-width="1.4"/>
<line x1="207.30" y1="498.50" x2="207.30" y2="484.00" stroke="#000" stroke-width="1.4"/>
<line x1="205.20" y1="484.00" x2="209.40" y2="484.00" stroke="#000" stroke-width="1.4"/>
<line x1="249.70" y1="490.40" x2="249.70" y2="478.30" stroke="#000" stroke-width="1.4"/>
<line x1="247.60" y1="478.30" x2="251.80" y2="478.30" stroke="#000" stroke-width="1.4"/>
<line x1="282.90" y1="495.60" x2="282.90" y2="483.20" stroke="#000" stroke-width="1.4"/>
<line x1="280.80" y1="483.20" x2="285.00" y2="483.20" stroke="#000" stroke-width="1.4"/>
<line x1="301.90" y1="488.10" x2="301.90" y2="476.00" stroke="#000" stroke-width="1.4"/>
<line x1="299.80" y1="476.00" x2="304.00" y2="476.00" stroke="#000" stroke-width="1.4"/>
<line x1="321.20" y1="496.20" x2="321.20" y2="483.20" stroke="#000" stroke-width="1.4"/>
<line x1="319.10" y1="483.20" x2="323.30" y2="483.20" stroke="#000" stroke-width="1.4"/>
<line x1="339.40" y1="501.40" x2="339.40" y2="486.30" stroke="#000" stroke-width="1.4"/>
<line x1="337.30" y1="486.30" x2="341.50" y2="486.30" stroke="#000" stroke-width="1.4"/>
<line x1="382.50" y1="489.30" x2="382.50" y2="475.00" stroke="#000" stroke-width="1.4"/>
<line x1="380.40" y1="475.00" x2="384.60" y2="475.00" stroke="#000" stroke-width="1.4"/>
<line x1="397.30" y1="489.30" x2="397.30" y2="475.00" stroke="#000" stroke-width="1.4"/>
<line x1="395.20" y1="475.00" x2="399.40" y2="475.00" stroke="#000" stroke-width="1.4"/>
<line x1="406.70" y1="483.10" x2="406.70" y2="469.60" stroke="#000" stroke-width="1.4"/>
<line x1="404.60" y1="469.60" x2="408.80" y2="469.60" stroke="#000" stroke-width="1.4"/>
<line x1="416.20" y1="480.90" x2="416.20" y2="466.90" stroke="#000" stroke-width="1.4"/>
<line x1="414.10" y1="466.90" x2="418.30" y2="466.90" stroke="#000" stroke-width="1.4"/>
<line x1="425.60" y1="486.60" x2="425.60" y2="471.80" stroke="#000" stroke-width="1.4"/>
<line x1="423.50" y1="471.80" x2="427.70" y2="471.80" stroke="#000" stroke-width="1.4"/>
<line x1="435.00" y1="480.40" x2="435.00" y2="464.80" stroke="#000" stroke-width="1.4"/>
<line x1="432.90" y1="464.80" x2="437.10" y2="464.80" stroke="#000" stroke-width="1.4"/>
<line x1="445.00" y1="479.60" x2="445.00" y2="463.70" stroke="#000" stroke-width="1.4"/>
<line x1="442.90" y1="463.70" x2="447.10" y2="463.70" stroke="#000" stroke-width="1.4"/>
<line x1="454.40" y1="473.10" x2="454.40" y2="457.50" stroke="#000" stroke-width="1.4"/>
<line x1="452.30" y1="457.50" x2="456.50" y2="457.50" stroke="#000" stroke-width="1.4"/>
<circle cx="76.80" cy="506.50" r="2.85" fill="#fff" stroke="#000" stroke-width="1.3"/>
<circle cx="119.90" cy="500.30" r="2.85" fill="#fff" stroke="#000" stroke-width="1.3"/>
<circle cx="153.00" cy="502.50" r="2.85" fill="#fff" stroke="#000" stroke-width="1.3"/>
<circle cx="172.90" cy="503.80" r="2.85" fill="#fff" stroke="#000" stroke-width="1.3"/>
<circle cx="191.20" cy="489.00" r="2.85" fill="#fff" stroke="#000" stroke-width="1.3"/>
<circle cx="207.30" cy="498.50" r="2.85" fill="#fff" stroke="#000" stroke-width="1.3"/>
<circle cx="249.70" cy="490.40" r="2.85" fill="#fff" stroke="#000" stroke-width="1.3"/>
<circle cx="282.90" cy="495.60" r="2.85" fill="#fff" stroke="#000" stroke-width="1.3"/>
<circle cx="301.90" cy="488.10" r="2.85" fill="#fff" stroke="#000" stroke-width="1.3"/>
<circle cx="321.20" cy="496.20" r="2.85" fill="#fff" stroke="#000" stroke-width="1.3"/>
<circle cx="339.40" cy="501.40" r="2.85" fill="#fff" stroke="#000" stroke-width="1.3"/>
<circle cx="382.50" cy="489.30" r="2.85" fill="#fff" stroke="#000" stroke-width="1.3"/>
<circle cx="397.30" cy="489.30" r="2.85" fill="#fff" stroke="#000" stroke-width="1.3"/>
<circle cx="406.70" cy="483.10" r="2.85" fill="#fff" stroke="#000" stroke-width="1.3"/>
<circle cx="416.20" cy="480.90" r="2.85" fill="#fff" stroke="#000" stroke-width="1.3"/>
<circle cx="425.60" cy="486.60" r="2.85" fill="#fff" stroke="#000" stroke-width="1.3"/>
<circle cx="435.00" cy="480.40" r="2.85" fill="#fff" stroke="#000" stroke-width="1.3"/>
<circle cx="445.00" cy="479.60" r="2.85" fill="#fff" stroke="#000" stroke-width="1.3"/>
<circle cx="454.40" cy="473.10" r="2.85" fill="#fff" stroke="#000" stroke-width="1.3"/>
<polyline points="76.80,526.20 119.90,518.70 153.00,527.50 172.90,521.40 191.20,516.00" fill="none" stroke="#000" stroke-width="1.3" stroke-linejoin="round"/>
<polyline points="207.30,527.30 249.70,519.20 282.90,527.00 301.90,530.80 321.20,528.70" fill="none" stroke="#000" stroke-width="1.3" stroke-linejoin="round"/>
<polyline points="339.40,538.30 382.50,536.90 397.30,536.90 406.70,532.40 416.20,531.50 425.60,533.40 435.00,529.70 445.00,527.50 454.40,533.40" fill="none" stroke="#000" stroke-width="1.3" stroke-linejoin="round"/>
<polyline points="191.20,516.00 207.30,527.30" fill="none" stroke="#000" stroke-width="1.3" stroke-linejoin="round"/>
<polyline points="321.20,528.70 339.40,538.30" fill="none" stroke="#000" stroke-width="1.3" stroke-linejoin="round"/>
<line x1="76.80" y1="526.20" x2="76.80" y2="514.60" stroke="#000" stroke-width="1.4"/>
<line x1="74.70" y1="514.60" x2="78.90" y2="514.60" stroke="#000" stroke-width="1.4"/>
<line x1="119.90" y1="518.70" x2="119.90" y2="506.50" stroke="#000" stroke-width="1.4"/>
<line x1="117.80" y1="506.50" x2="122.00" y2="506.50" stroke="#000" stroke-width="1.4"/>
<line x1="153.00" y1="527.50" x2="153.00" y2="517.90" stroke="#000" stroke-width="1.4"/>
<line x1="150.90" y1="517.90" x2="155.10" y2="517.90" stroke="#000" stroke-width="1.4"/>
<line x1="172.90" y1="521.40" x2="172.90" y2="510.60" stroke="#000" stroke-width="1.4"/>
<line x1="170.80" y1="510.60" x2="175.00" y2="510.60" stroke="#000" stroke-width="1.4"/>
<line x1="191.20" y1="516.00" x2="191.20" y2="503.30" stroke="#000" stroke-width="1.4"/>
<line x1="189.10" y1="503.30" x2="193.30" y2="503.30" stroke="#000" stroke-width="1.4"/>
<line x1="207.30" y1="527.30" x2="207.30" y2="515.00" stroke="#000" stroke-width="1.4"/>
<line x1="205.20" y1="515.00" x2="209.40" y2="515.00" stroke="#000" stroke-width="1.4"/>
<line x1="249.70" y1="519.20" x2="249.70" y2="506.20" stroke="#000" stroke-width="1.4"/>
<line x1="247.60" y1="506.20" x2="251.80" y2="506.20" stroke="#000" stroke-width="1.4"/>
<line x1="282.90" y1="527.00" x2="282.90" y2="512.90" stroke="#000" stroke-width="1.4"/>
<line x1="280.80" y1="512.90" x2="285.00" y2="512.90" stroke="#000" stroke-width="1.4"/>
<line x1="301.90" y1="530.80" x2="301.90" y2="516.90" stroke="#000" stroke-width="1.4"/>
<line x1="299.80" y1="516.90" x2="304.00" y2="516.90" stroke="#000" stroke-width="1.4"/>
<line x1="321.20" y1="528.70" x2="321.20" y2="517.80" stroke="#000" stroke-width="1.4"/>
<line x1="319.10" y1="517.80" x2="323.30" y2="517.80" stroke="#000" stroke-width="1.4"/>
<line x1="339.40" y1="538.30" x2="339.40" y2="527.50" stroke="#000" stroke-width="1.4"/>
<line x1="337.30" y1="527.50" x2="341.50" y2="527.50" stroke="#000" stroke-width="1.4"/>
<line x1="382.50" y1="536.90" x2="382.50" y2="525.60" stroke="#000" stroke-width="1.4"/>
<line x1="380.40" y1="525.60" x2="384.60" y2="525.60" stroke="#000" stroke-width="1.4"/>
<line x1="397.30" y1="536.90" x2="397.30" y2="526.70" stroke="#000" stroke-width="1.4"/>
<line x1="395.20" y1="526.70" x2="399.40" y2="526.70" stroke="#000" stroke-width="1.4"/>
<line x1="406.70" y1="532.40" x2="406.70" y2="522.90" stroke="#000" stroke-width="1.4"/>
<line x1="404.60" y1="522.90" x2="408.80" y2="522.90" stroke="#000" stroke-width="1.4"/>
<line x1="416.20" y1="531.50" x2="416.20" y2="520.80" stroke="#000" stroke-width="1.4"/>
<line x1="414.10" y1="520.80" x2="418.30" y2="520.80" stroke="#000" stroke-width="1.4"/>
<line x1="425.60" y1="533.40" x2="425.60" y2="523.50" stroke="#000" stroke-width="1.4"/>
<line x1="423.50" y1="523.50" x2="427.70" y2="523.50" stroke="#000" stroke-width="1.4"/>
<line x1="435.00" y1="529.70" x2="435.00" y2="518.60" stroke="#000" stroke-width="1.4"/>
<line x1="432.90" y1="518.60" x2="437.10" y2="518.60" stroke="#000" stroke-width="1.4"/>
<line x1="445.00" y1="527.50" x2="445.00" y2="517.50" stroke="#000" stroke-width="1.4"/>
<line x1="442.90" y1="517.50" x2="447.10" y2="517.50" stroke="#000" stroke-width="1.4"/>
<line x1="454.40" y1="533.40" x2="454.40" y2="523.50" stroke="#000" stroke-width="1.4"/>
<line x1="452.30" y1="523.50" x2="456.50" y2="523.50" stroke="#000" stroke-width="1.4"/>
<circle cx="76.80" cy="526.20" r="3.35" fill="#000"/>
<circle cx="119.90" cy="518.70" r="3.35" fill="#000"/>
<circle cx="153.00" cy="527.50" r="3.35" fill="#000"/>
<circle cx="172.90" cy="521.40" r="3.35" fill="#000"/>
<circle cx="191.20" cy="516.00" r="3.35" fill="#000"/>
<circle cx="207.30" cy="527.30" r="3.35" fill="#000"/>
<circle cx="249.70" cy="519.20" r="3.35" fill="#000"/>
<circle cx="282.90" cy="527.00" r="3.35" fill="#000"/>
<circle cx="301.90" cy="530.80" r="3.35" fill="#000"/>
<circle cx="321.20" cy="528.70" r="3.35" fill="#000"/>
<circle cx="339.40" cy="538.30" r="3.35" fill="#000"/>
<circle cx="382.50" cy="536.90" r="3.35" fill="#000"/>
<circle cx="397.30" cy="536.90" r="3.35" fill="#000"/>
<circle cx="406.70" cy="532.40" r="3.35" fill="#000"/>
<circle cx="416.20" cy="531.50" r="3.35" fill="#000"/>
<circle cx="425.60" cy="533.40" r="3.35" fill="#000"/>
<circle cx="435.00" cy="529.70" r="3.35" fill="#000"/>
<circle cx="445.00" cy="527.50" r="3.35" fill="#000"/>
<circle cx="454.40" cy="533.40" r="3.35" fill="#000"/>
<line x1="197.92" y1="492.97" x2="201.28" y2="494.95" stroke="#fff" stroke-width="3"/>
<line x1="195.64" y1="496.61" x2="200.20" y2="489.32" stroke="#111" stroke-width="1.15"/>
<line x1="199.00" y1="498.59" x2="203.56" y2="491.30" stroke="#111" stroke-width="1.15"/>
<line x1="328.23" y1="498.21" x2="331.97" y2="499.28" stroke="#fff" stroke-width="3"/>
<line x1="325.95" y1="501.85" x2="330.50" y2="494.56" stroke="#111" stroke-width="1.15"/>
<line x1="329.70" y1="502.93" x2="334.25" y2="495.63" stroke="#111" stroke-width="1.15"/>
<line x1="198.40" y1="521.06" x2="201.60" y2="523.30" stroke="#fff" stroke-width="3"/>
<line x1="196.13" y1="524.70" x2="200.68" y2="517.41" stroke="#111" stroke-width="1.15"/>
<line x1="199.32" y1="526.94" x2="203.87" y2="519.65" stroke="#111" stroke-width="1.15"/>
<line x1="328.38" y1="532.48" x2="331.82" y2="534.30" stroke="#fff" stroke-width="3"/>
<line x1="326.10" y1="536.13" x2="330.65" y2="528.84" stroke="#111" stroke-width="1.15"/>
<line x1="329.55" y1="537.95" x2="334.10" y2="530.66" stroke="#111" stroke-width="1.15"/>
<text x="302.20" y="470.89" font-size="7.5" text-anchor="middle" font-weight="bold" stroke="#000" stroke-width="0.35">#</text>
<text x="303.20" y="514.81" font-size="11.5" text-anchor="middle" font-weight="bold">*</text>
<text x="384.00" y="523.91" font-size="11.5" text-anchor="middle" font-weight="bold">*</text>
<text x="396.70" y="525.21" font-size="11.5" text-anchor="middle" font-weight="bold">*</text>
<text x="406.00" y="521.91" font-size="11.5" text-anchor="middle" font-weight="bold">**</text>
<text x="416.70" y="519.81" font-size="11.5" text-anchor="middle" font-weight="bold">**</text>
<text x="426.10" y="521.91" font-size="11.5" text-anchor="middle" font-weight="bold">*</text>
<text x="435.50" y="517.71" font-size="11.5" text-anchor="middle" font-weight="bold">*</text>
<text x="445.30" y="516.01" font-size="11.5" text-anchor="middle" font-weight="bold">*</text>
<text x="455.00" y="523.11" font-size="11.5" text-anchor="middle" font-weight="bold">**</text>
</svg>
</body></html>
